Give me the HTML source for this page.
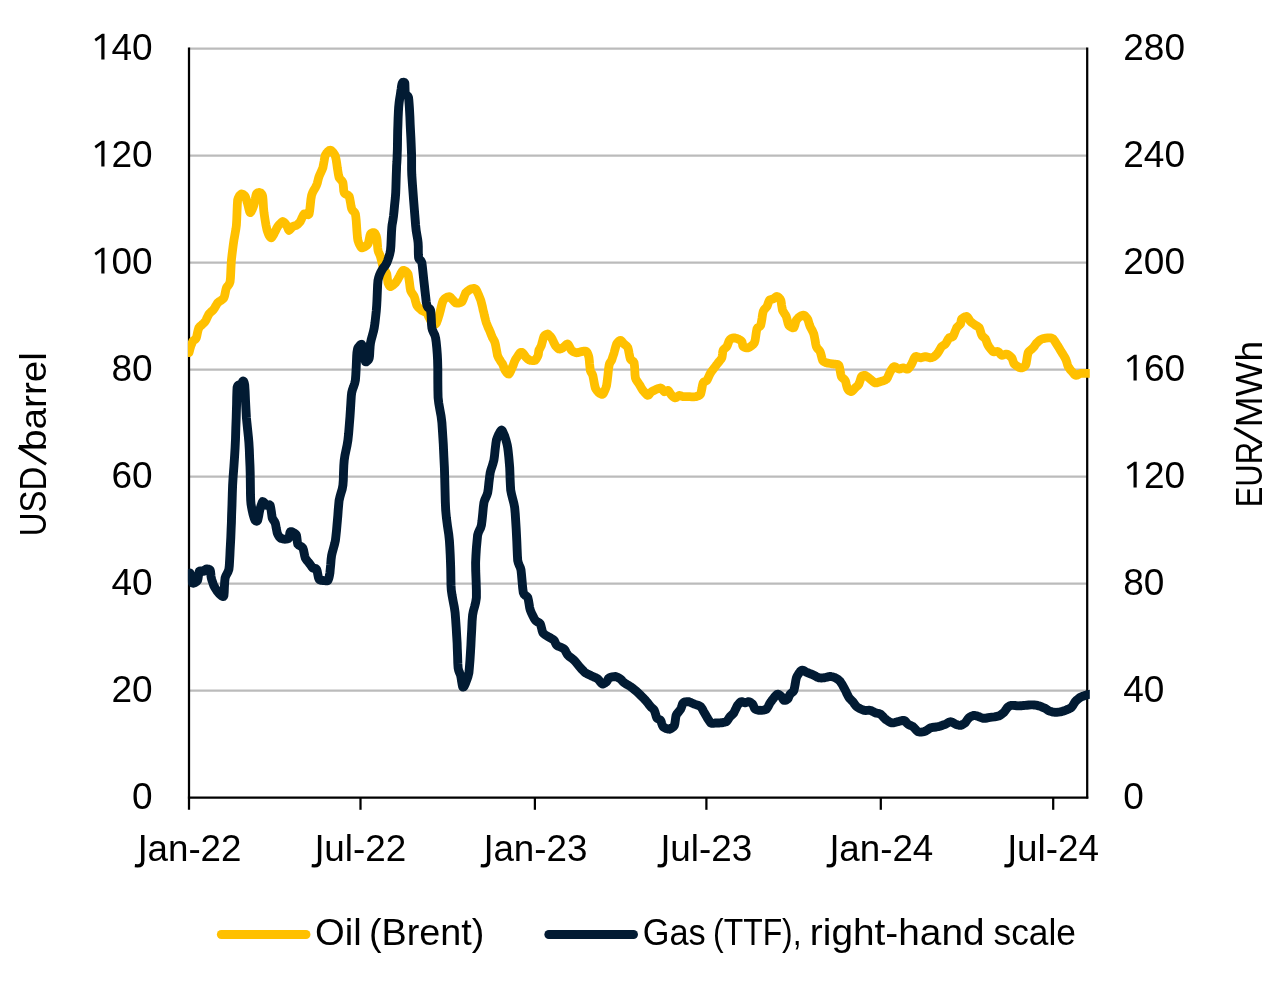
<!DOCTYPE html>
<html><head><meta charset="utf-8"><title>Oil and gas prices</title>
<style>
html,body{margin:0;padding:0;background:#fff;}
body{width:1280px;height:998px;position:relative;overflow:hidden;font-family:"Liberation Sans",sans-serif;}
</style></head><body>
<div id="chart" style="position:absolute;left:0;top:0;width:1280px;height:998px;will-change:transform;">
<svg width="1280" height="998" viewBox="0 0 1280 998" style="position:absolute;left:0;top:0;font-family:'Liberation Sans',sans-serif;">
<rect width="1280" height="998" fill="#ffffff"/>
<defs><clipPath id="plot"><rect x="187.9" y="40" width="901.9" height="765"/></clipPath></defs>
<line x1="189.0" y1="48.6" x2="1087.2" y2="48.6" stroke="#bbbbbb" stroke-width="2.25"/>
<line x1="189.0" y1="155.6" x2="1087.2" y2="155.6" stroke="#bbbbbb" stroke-width="2.25"/>
<line x1="189.0" y1="262.6" x2="1087.2" y2="262.6" stroke="#bbbbbb" stroke-width="2.25"/>
<line x1="189.0" y1="369.6" x2="1087.2" y2="369.6" stroke="#bbbbbb" stroke-width="2.25"/>
<line x1="189.0" y1="476.5" x2="1087.2" y2="476.5" stroke="#bbbbbb" stroke-width="2.25"/>
<line x1="189.0" y1="583.5" x2="1087.2" y2="583.5" stroke="#bbbbbb" stroke-width="2.25"/>
<line x1="189.0" y1="690.5" x2="1087.2" y2="690.5" stroke="#bbbbbb" stroke-width="2.25"/>
<line x1="189.0" y1="47.5" x2="189.0" y2="809.8" stroke="#000" stroke-width="2.25"/>
<line x1="1087.2" y1="47.5" x2="1087.2" y2="798.6" stroke="#000" stroke-width="2.25"/>
<line x1="187.9" y1="797.5" x2="1088.3" y2="797.5" stroke="#000" stroke-width="2.25"/>
<line x1="360.5" y1="797.5" x2="360.5" y2="809.8" stroke="#000" stroke-width="2.25"/>
<line x1="534.9" y1="797.5" x2="534.9" y2="809.8" stroke="#000" stroke-width="2.25"/>
<line x1="706.4" y1="797.5" x2="706.4" y2="809.8" stroke="#000" stroke-width="2.25"/>
<line x1="880.8" y1="797.5" x2="880.8" y2="809.8" stroke="#000" stroke-width="2.25"/>
<line x1="1053.2" y1="797.5" x2="1053.2" y2="809.8" stroke="#000" stroke-width="2.25"/>
<path d="M189.0,352.6 L189.4,351.3 L189.9,349.2 L190.5,347.1 L191.0,345.5 L191.5,344.4 L192.0,343.1 L192.5,341.9 L193.0,341.0 L193.7,340.4 L194.6,339.8 L195.6,339.0 L196.3,338.0 L196.8,336.1 L197.4,333.2 L198.1,330.1 L198.8,328.0 L200.0,326.4 L201.9,324.8 L203.7,323.1 L205.1,321.7 L206.0,320.1 L207.0,317.9 L208.0,315.8 L208.8,314.2 L209.9,313.0 L211.3,311.6 L212.8,310.3 L213.8,309.2 L214.7,307.8 L215.7,306.1 L216.7,304.3 L217.6,302.9 L218.9,301.8 L220.8,300.6 L222.6,299.3 L223.9,297.9 L224.6,295.9 L225.2,293.0 L225.8,290.0 L226.4,287.9 L227.2,286.6 L228.3,285.3 L229.4,283.7 L230.1,281.6 L230.5,277.6 L230.8,271.6 L231.1,265.2 L231.4,260.3 L231.9,255.7 L232.6,250.0 L233.3,244.5 L233.9,240.3 L234.5,236.9 L235.2,233.0 L235.9,229.0 L236.4,225.2 L236.7,219.9 L237.0,212.3 L237.3,205.0 L237.6,200.2 L238.4,197.7 L239.4,195.8 L240.5,194.6 L241.4,193.9 L242.3,194.0 L243.3,194.6 L244.4,195.5 L245.2,196.4 L245.8,197.8 L246.5,199.9 L247.1,202.1 L247.7,203.9 L248.2,206.1 L248.9,209.0 L249.6,211.5 L250.2,212.7 L251.0,211.9 L252.1,209.8 L253.1,207.3 L253.9,205.2 L254.5,202.7 L255.2,199.3 L255.8,196.0 L256.4,193.9 L257.2,193.1 L258.3,192.6 L259.4,192.5 L260.2,192.7 L260.8,193.0 L261.6,193.8 L262.2,194.9 L262.7,196.4 L263.0,199.4 L263.3,204.1 L263.6,208.9 L264.0,212.7 L264.5,216.2 L265.2,220.6 L265.9,224.8 L266.5,227.7 L267.0,229.9 L267.7,232.1 L268.4,234.0 L269.0,235.3 L269.5,236.2 L270.2,237.1 L270.9,237.7 L271.5,237.8 L272.3,236.8 L273.4,235.0 L274.4,233.0 L275.2,231.5 L275.8,230.3 L276.4,228.9 L277.1,227.6 L277.7,226.5 L278.8,225.2 L280.2,223.6 L281.7,222.2 L282.8,221.5 L283.7,221.9 L284.7,222.9 L285.8,224.2 L286.5,225.2 L287.1,226.4 L287.8,228.1 L288.4,229.5 L289.0,230.3 L289.8,229.8 L290.8,228.6 L291.9,227.3 L292.8,226.5 L293.6,226.1 L294.7,225.9 L295.7,225.6 L296.5,225.2 L297.4,224.6 L298.4,223.6 L299.5,222.5 L300.3,221.5 L301.1,219.9 L302.1,217.6 L303.2,215.3 L304.1,214.0 L305.2,213.9 L306.6,214.5 L308.1,214.8 L309.1,214.0 L309.7,210.6 L310.3,205.0 L310.9,199.2 L311.6,195.2 L312.6,192.5 L314.1,189.7 L315.6,187.2 L316.6,185.1 L317.3,183.1 L317.9,180.7 L318.5,178.3 L319.1,176.4 L319.9,174.5 L321.0,172.1 L322.1,169.7 L322.9,167.6 L323.4,164.9 L324.1,161.2 L324.7,157.5 L325.4,155.1 L326.4,153.4 L327.8,151.7 L329.2,150.5 L330.4,150.1 L331.5,150.7 L333.0,152.3 L334.4,154.3 L335.4,156.3 L336.1,159.4 L336.8,163.8 L337.4,168.3 L337.9,171.4 L338.2,173.2 L338.5,174.9 L338.8,176.4 L339.1,177.6 L339.9,178.7 L341.0,180.0 L342.2,181.3 L342.9,182.6 L343.2,184.7 L343.5,187.7 L343.7,190.7 L344.2,192.7 L345.1,193.7 L346.6,194.4 L348.1,195.3 L349.2,196.4 L349.8,198.9 L350.5,202.6 L351.1,206.4 L351.7,208.9 L352.5,210.3 L353.6,211.4 L354.7,212.5 L355.4,214.0 L355.8,216.6 L356.2,220.5 L356.5,224.6 L356.7,227.7 L356.9,230.7 L357.2,234.3 L357.5,237.8 L357.9,240.3 L358.6,242.4 L359.6,244.7 L360.7,246.8 L361.7,247.8 L363.0,247.6 L364.9,246.7 L366.7,245.4 L368.0,244.0 L368.7,242.0 L369.3,238.9 L369.9,235.9 L370.5,234.0 L371.3,233.2 L372.4,232.7 L373.4,232.6 L374.2,232.8 L374.9,233.4 L375.6,234.7 L376.3,236.2 L376.7,237.8 L377.1,240.3 L377.4,244.0 L377.7,247.7 L378.0,250.3 L378.5,251.9 L379.2,253.5 L379.9,255.1 L380.5,256.6 L381.0,258.6 L381.7,261.5 L382.4,264.4 L383.0,266.6 L383.8,268.4 L384.9,270.4 L386.0,272.4 L386.8,274.1 L387.1,276.1 L387.4,278.7 L387.7,281.2 L388.0,282.9 L388.5,284.1 L389.1,285.3 L389.8,286.3 L390.5,286.6 L391.5,286.2 L393.0,285.2 L394.4,284.0 L395.5,282.9 L396.4,281.6 L397.5,279.9 L398.5,278.0 L399.3,276.6 L400.1,275.1 L401.1,273.0 L402.2,271.2 L403.1,270.4 L404.1,270.5 L405.6,271.2 L407.1,272.5 L408.1,274.1 L408.7,277.3 L409.4,282.1 L410.0,287.1 L410.6,290.4 L411.4,292.2 L412.5,293.9 L413.5,295.3 L414.3,296.7 L414.9,298.6 L415.5,301.1 L416.2,303.6 L416.8,305.4 L417.8,306.8 L419.2,308.2 L420.7,309.5 L421.9,310.5 L423.0,311.0 L424.4,311.6 L425.8,312.2 L426.9,313.0 L427.7,314.4 L428.7,316.7 L429.8,318.9 L430.6,320.5 L431.7,321.7 L433.1,323.1 L434.6,324.1 L435.6,324.2 L436.5,322.8 L437.6,320.0 L438.6,316.8 L439.4,314.2 L440.2,311.2 L441.2,307.0 L442.2,303.1 L443.2,300.4 L444.4,298.9 L446.2,297.7 L448.0,296.8 L449.4,296.7 L450.8,297.7 L452.6,299.7 L454.3,301.7 L455.7,302.9 L457.1,303.1 L458.9,303.0 L460.7,302.5 L462.0,301.7 L462.9,300.0 L463.9,297.4 L464.9,294.7 L465.7,292.9 L466.8,291.8 L468.2,290.6 L469.6,289.7 L470.7,289.1 L471.8,288.8 L473.2,288.5 L474.6,288.5 L475.7,289.1 L476.9,291.1 L478.3,294.2 L479.7,297.7 L480.8,300.4 L481.5,303.1 L482.4,306.6 L483.1,310.1 L483.8,312.7 L484.3,315.1 L485.0,317.9 L485.7,320.6 L486.3,322.7 L487.1,324.8 L488.1,327.3 L489.2,329.7 L490.0,331.5 L490.6,333.0 L491.3,334.8 L492.0,336.5 L492.5,337.8 L493.1,338.8 L493.8,340.0 L494.5,341.3 L495.0,342.8 L495.6,345.3 L496.3,349.0 L497.0,352.8 L497.5,355.3 L498.1,356.8 L498.8,358.2 L499.5,359.4 L500.1,360.3 L500.6,361.2 L501.3,362.2 L502.0,363.1 L502.6,364.1 L503.1,365.4 L503.8,367.2 L504.4,369.0 L505.1,370.4 L505.8,371.5 L506.9,372.8 L508.0,373.9 L508.8,374.1 L509.7,373.0 L510.8,370.8 L511.8,368.4 L512.6,366.6 L513.2,365.2 L513.8,363.5 L514.4,361.8 L515.1,360.3 L516.1,358.6 L517.6,356.3 L519.1,354.1 L520.1,352.8 L520.8,352.4 L521.4,352.3 L522.0,352.4 L522.6,352.8 L523.4,353.7 L524.4,355.2 L525.5,356.7 L526.4,357.8 L527.2,358.5 L528.2,359.3 L529.2,359.9 L530.1,360.3 L531.2,360.5 L532.7,360.7 L534.1,360.6 L535.1,360.3 L535.9,359.5 L536.8,358.0 L537.6,356.5 L538.1,355.3 L538.4,354.2 L538.5,352.8 L538.7,351.4 L538.9,350.3 L539.4,349.3 L540.1,348.0 L540.8,346.6 L541.4,345.3 L541.9,343.4 L542.6,340.8 L543.3,338.2 L543.9,336.5 L544.7,335.5 L545.7,334.7 L546.8,334.2 L547.7,334.0 L548.5,334.5 L549.5,335.5 L550.6,336.6 L551.4,337.8 L552.3,339.3 L553.3,341.5 L554.4,343.7 L555.2,345.3 L556.0,346.4 L557.1,347.6 L558.1,348.5 L558.9,349.0 L559.8,349.1 L560.8,348.8 L561.8,348.3 L562.7,347.8 L563.8,346.9 L565.2,345.6 L566.6,344.4 L567.7,344.0 L568.6,345.0 L569.6,346.9 L570.6,348.9 L571.5,350.3 L572.5,351.1 L573.9,351.9 L575.4,352.5 L576.5,352.8 L577.6,352.7 L579.0,352.3 L580.4,351.8 L581.5,351.6 L582.7,351.4 L584.1,351.2 L585.5,351.2 L586.5,351.6 L587.2,352.5 L587.9,354.1 L588.6,356.0 L589.0,357.8 L589.3,360.4 L589.6,364.1 L590.0,367.8 L590.3,370.4 L590.8,371.7 L591.5,372.9 L592.2,374.0 L592.8,375.4 L593.3,377.9 L594.0,381.6 L594.7,385.4 L595.3,387.9 L596.1,389.4 L597.1,390.9 L598.2,392.1 L599.0,392.9 L599.9,393.5 L600.9,394.1 L602.0,394.4 L602.8,394.2 L603.7,392.9 L604.7,390.7 L605.8,388.1 L606.6,385.4 L607.2,381.2 L607.9,375.2 L608.5,369.2 L609.1,365.3 L609.6,363.5 L610.3,362.3 L611.0,361.3 L611.6,360.3 L612.1,358.8 L612.8,356.7 L613.5,354.6 L614.1,352.8 L614.6,350.8 L615.3,348.3 L616.0,345.8 L616.6,344.0 L617.4,342.8 L618.4,341.6 L619.5,340.7 L620.4,340.3 L621.2,340.7 L622.2,341.8 L623.3,343.1 L624.1,344.0 L625.0,344.7 L626.0,345.6 L627.1,346.6 L627.9,347.8 L628.5,350.1 L629.1,353.4 L629.8,356.8 L630.4,359.1 L631.2,360.1 L632.3,360.8 L633.4,361.6 L634.1,362.8 L634.5,365.8 L634.8,370.2 L635.0,374.8 L635.4,377.9 L636.1,379.7 L637.2,381.4 L638.3,382.9 L639.1,384.1 L640.0,385.5 L641.0,387.3 L642.0,389.1 L642.9,390.4 L644.0,391.7 L645.4,393.3 L646.8,394.8 L647.9,395.4 L648.7,395.0 L649.6,393.9 L650.6,392.6 L651.7,391.7 L653.5,390.7 L656.1,389.4 L658.7,388.4 L660.5,387.9 L661.5,388.4 L662.6,389.7 L663.5,390.9 L664.2,391.7 L665.0,391.5 L666.1,391.0 L667.1,390.5 L668.0,390.4 L668.8,391.2 L669.8,392.7 L670.9,394.3 L671.7,395.4 L672.6,396.2 L673.6,397.0 L674.7,397.7 L675.5,397.9 L676.3,397.5 L677.4,396.7 L678.4,395.9 L679.2,395.4 L680.1,395.5 L681.1,395.9 L682.1,396.4 L683.0,396.7 L684.0,396.7 L685.3,396.7 L686.8,396.7 L688.0,396.7 L689.6,396.7 L691.8,396.8 L694.0,396.8 L695.5,396.7 L696.8,396.4 L698.3,395.9 L699.6,395.2 L700.6,394.2 L701.2,391.9 L701.9,388.5 L702.5,385.1 L703.1,382.9 L703.8,382.0 L704.9,381.5 L706.0,381.0 L706.8,380.4 L707.7,378.9 L708.7,376.7 L709.7,374.5 L710.6,372.9 L711.4,371.6 L712.5,370.2 L713.5,368.9 L714.3,367.8 L715.2,366.7 L716.2,365.3 L717.3,363.9 L718.1,362.8 L719.0,361.8 L720.1,360.4 L721.1,359.1 L721.9,357.8 L722.2,356.2 L722.5,354.0 L722.7,351.8 L723.1,350.3 L723.8,349.3 L724.9,348.4 L726.1,347.4 L726.9,346.5 L727.5,345.2 L728.1,343.4 L728.8,341.5 L729.4,340.3 L730.1,339.5 L731.1,338.7 L732.2,338.1 L733.1,337.8 L734.2,337.8 L735.6,338.2 L737.1,338.6 L738.1,339.0 L739.1,339.5 L740.2,340.1 L741.2,340.8 L741.9,341.5 L742.2,342.6 L742.5,344.1 L742.7,345.6 L743.2,346.5 L744.1,347.1 L745.4,347.6 L746.9,347.9 L748.2,347.8 L749.6,347.1 L751.4,345.9 L753.2,344.4 L754.4,342.8 L755.2,340.0 L755.8,335.8 L756.4,331.7 L756.9,329.0 L757.7,327.8 L758.8,327.1 L759.9,326.4 L760.7,325.2 L761.3,322.5 L762.0,318.4 L762.6,314.2 L763.2,311.5 L764.0,309.9 L765.1,308.6 L766.2,307.5 L767.0,306.4 L767.6,305.0 L768.2,303.1 L768.9,301.3 L769.5,300.2 L770.2,299.7 L771.3,299.4 L772.4,299.2 L773.2,298.9 L774.1,298.3 L775.1,297.4 L776.2,296.7 L777.0,296.4 L777.9,296.8 L779.0,297.7 L780.0,298.9 L780.8,300.2 L781.2,302.2 L781.6,305.1 L782.1,308.1 L782.5,310.2 L783.3,311.7 L784.4,313.4 L785.5,315.0 L786.3,316.5 L786.8,318.4 L787.5,321.0 L788.1,323.6 L788.8,325.2 L789.8,326.3 L791.3,327.2 L792.8,327.8 L793.8,327.7 L794.4,326.5 L795.1,324.3 L795.7,321.9 L796.3,320.2 L797.1,319.2 L798.1,318.1 L799.2,317.1 L800.1,316.5 L800.9,316.0 L801.9,315.5 L803.0,315.2 L803.8,315.2 L804.7,315.7 L805.7,316.7 L806.8,317.9 L807.6,319.0 L808.2,320.5 L808.8,322.6 L809.5,324.8 L810.1,326.5 L810.9,328.1 L812.0,330.0 L813.0,332.1 L813.8,334.0 L814.4,336.7 L815.1,340.4 L815.7,344.0 L816.3,346.5 L817.1,348.0 L818.2,349.2 L819.3,350.4 L820.1,351.6 L820.7,353.4 L821.4,356.0 L822.0,358.6 L822.6,360.3 L823.3,361.2 L824.3,361.9 L825.3,362.4 L826.4,362.8 L827.9,363.2 L830.1,363.5 L832.3,363.8 L833.9,364.1 L835.2,364.2 L836.6,364.3 L837.9,364.6 L838.9,365.3 L839.6,367.5 L840.2,370.9 L840.8,374.3 L841.4,376.6 L842.2,377.7 L843.3,378.6 L844.4,379.4 L845.2,380.4 L845.8,382.2 L846.4,384.8 L847.1,387.4 L847.7,389.1 L848.4,390.1 L849.5,390.9 L850.6,391.5 L851.4,391.7 L852.3,391.1 L853.3,390.0 L854.4,388.8 L855.2,387.9 L856.0,387.1 L857.1,386.2 L858.2,385.2 L858.9,384.1 L859.5,382.5 L860.2,380.3 L860.9,378.0 L861.5,376.6 L862.2,375.9 L863.2,375.5 L864.3,375.3 L865.2,375.4 L866.3,376.0 L867.7,377.0 L869.1,378.2 L870.2,379.1 L871.3,380.0 L872.7,381.2 L874.1,382.3 L875.2,382.9 L876.3,382.9 L877.7,382.5 L879.1,382.1 L880.3,381.6 L881.6,381.2 L883.4,380.7 L885.2,379.9 L886.5,379.1 L887.5,377.7 L888.5,375.5 L889.5,373.2 L890.3,371.6 L891.1,370.2 L892.1,368.7 L893.1,367.3 L894.0,366.6 L895.1,366.8 L896.5,367.7 L898.0,368.6 L899.0,369.1 L899.9,369.0 L900.9,368.5 L901.9,368.1 L902.8,367.8 L903.9,368.1 L905.3,368.6 L906.7,369.1 L907.8,369.1 L908.7,368.3 L909.8,367.0 L910.8,365.4 L911.6,364.1 L912.4,362.4 L913.4,360.1 L914.4,357.8 L915.3,356.6 L916.4,356.5 L917.8,356.9 L919.2,357.5 L920.4,357.8 L921.5,357.6 L922.9,357.2 L924.3,356.8 L925.4,356.6 L926.5,356.8 L927.9,357.2 L929.3,357.6 L930.4,357.8 L931.3,357.7 L932.3,357.4 L933.3,357.0 L934.1,356.6 L935.0,355.9 L936.0,354.9 L937.1,353.8 L937.9,352.8 L938.7,351.5 L939.8,349.6 L940.8,347.8 L941.7,346.5 L942.5,345.9 L943.5,345.3 L944.6,344.7 L945.4,344.0 L946.2,342.7 L947.3,340.8 L948.3,339.0 L949.2,337.8 L950.0,337.4 L951.1,337.3 L952.1,337.1 L952.9,336.5 L953.8,334.9 L954.8,332.2 L955.9,329.6 L956.7,327.7 L957.6,326.7 L958.7,325.7 L959.7,324.8 L960.5,324.0 L960.8,322.9 L961.0,321.4 L961.3,320.0 L961.7,319.0 L962.7,318.2 L964.1,317.3 L965.6,316.6 L966.7,316.5 L967.6,317.2 L968.6,318.7 L969.6,320.3 L970.5,321.5 L971.5,322.4 L973.0,323.5 L974.4,324.5 L975.5,325.2 L976.4,325.8 L977.5,326.3 L978.5,327.0 L979.2,327.7 L979.8,329.2 L980.5,331.4 L981.2,333.7 L981.8,335.3 L982.5,336.2 L983.6,337.2 L984.7,338.1 L985.5,339.0 L986.1,340.3 L986.7,342.0 L987.4,343.9 L988.0,345.3 L989.0,346.8 L990.4,348.7 L991.9,350.5 L993.0,351.6 L994.2,351.8 L995.6,351.7 L997.0,351.5 L998.0,351.6 L998.9,352.3 L999.9,353.5 L1000.9,354.7 L1001.8,355.3 L1002.9,355.2 L1004.3,354.7 L1005.7,354.2 L1006.8,354.1 L1008.0,354.6 L1009.4,355.6 L1010.8,356.8 L1011.8,357.8 L1012.4,359.1 L1013.0,361.0 L1013.6,362.8 L1014.3,364.1 L1015.6,365.1 L1017.4,366.3 L1019.2,367.4 L1020.6,367.8 L1021.8,367.8 L1023.3,367.3 L1024.6,366.5 L1025.6,365.3 L1026.3,362.9 L1026.9,359.2 L1027.5,355.4 L1028.1,352.8 L1029.1,351.3 L1030.6,350.0 L1032.0,348.8 L1033.1,347.8 L1034.0,346.7 L1035.0,345.2 L1036.0,343.8 L1036.9,342.8 L1037.9,341.8 L1039.2,340.7 L1040.6,339.7 L1041.9,339.0 L1043.5,338.6 L1045.7,338.2 L1047.9,337.9 L1049.4,337.8 L1050.4,337.8 L1051.4,338.0 L1052.3,338.4 L1053.2,339.0 L1054.3,340.4 L1055.7,342.6 L1057.1,344.8 L1058.2,346.5 L1059.1,348.0 L1060.1,349.7 L1061.1,351.4 L1062.0,352.8 L1062.8,354.2 L1063.9,355.9 L1064.9,357.6 L1065.7,359.1 L1066.3,360.7 L1067.0,362.9 L1067.6,365.0 L1068.2,366.6 L1069.0,367.8 L1070.0,369.3 L1071.1,370.6 L1072.0,371.6 L1072.8,372.6 L1073.8,373.8 L1074.8,374.8 L1075.7,375.4 L1076.8,375.2 L1078.2,374.5 L1079.6,373.8 L1080.8,373.4 L1081.9,373.3 L1083.4,373.3 L1085.0,373.3 L1086.3,373.4 L1087.9,373.4 L1090.0,373.4 L1092.0,373.4 L1093.3,373.4" fill="none" stroke="#FFC000" stroke-width="8.8" stroke-linejoin="round" stroke-linecap="round" clip-path="url(#plot)"/>
<path d="M190.0,573.0 L190.4,575.0 L191.1,578.2 L191.8,581.3 L192.5,583.1 L193.6,583.2 L195.1,582.6 L196.6,581.6 L197.5,580.6 L198.0,578.7 L198.4,575.8 L198.8,573.0 L199.3,571.3 L200.2,570.9 L201.5,571.0 L202.9,571.2 L203.8,571.3 L204.4,570.8 L205.1,570.1 L205.7,569.4 L206.3,569.0 L207.1,569.0 L208.3,569.1 L209.3,569.4 L210.1,570.0 L210.5,571.5 L210.8,573.8 L211.0,576.2 L211.3,578.0 L211.8,579.8 L212.5,581.9 L213.2,584.0 L213.8,585.6 L214.6,587.1 L215.7,588.9 L216.7,590.6 L217.6,591.8 L218.4,592.8 L219.5,594.0 L220.6,595.0 L221.4,595.6 L222.0,596.1 L222.7,596.5 L223.4,596.5 L223.9,595.6 L224.2,592.4 L224.4,587.2 L224.7,581.8 L225.1,578.0 L225.9,575.8 L227.0,573.7 L228.1,571.6 L228.9,569.3 L229.3,565.7 L229.6,560.7 L229.9,555.2 L230.1,550.5 L230.4,545.0 L230.8,537.5 L231.1,529.7 L231.4,522.9 L231.6,515.1 L232.0,504.5 L232.3,493.8 L232.6,485.3 L233.1,477.0 L233.9,466.5 L234.6,456.1 L235.1,447.7 L235.5,439.1 L235.8,428.3 L236.2,417.7 L236.4,410.1 L236.6,404.1 L236.7,397.3 L236.9,391.3 L237.1,387.6 L237.6,385.9 L238.4,385.1 L239.2,384.9 L239.6,385.1 L239.8,386.0 L239.9,387.8 L240.0,389.5 L240.2,390.1 L240.6,388.6 L241.3,385.7 L242.1,382.9 L242.7,381.3 L243.1,381.0 L243.7,381.4 L244.2,382.6 L244.7,385.1 L245.1,391.0 L245.5,400.4 L246.0,410.3 L246.4,417.6 L247.0,423.5 L247.7,430.3 L248.4,437.0 L248.9,442.7 L249.3,449.2 L249.6,457.6 L250.0,466.2 L250.2,472.8 L250.3,479.3 L250.4,487.3 L250.5,495.0 L250.7,500.4 L251.0,504.0 L251.6,507.5 L252.2,510.6 L252.7,512.9 L253.2,514.9 L253.9,517.2 L254.6,519.2 L255.2,520.4 L255.8,520.9 L256.5,521.2 L257.2,521.0 L257.7,520.4 L258.1,518.6 L258.7,515.8 L259.2,512.7 L259.7,510.4 L260.3,508.2 L261.1,505.4 L262.0,502.9 L262.7,501.6 L263.5,501.9 L264.6,503.1 L265.6,504.5 L266.5,505.4 L267.3,505.3 L268.4,505.0 L269.5,504.8 L270.2,505.4 L270.7,507.7 L271.3,511.4 L271.8,515.3 L272.2,517.9 L272.9,519.3 L273.7,520.5 L274.6,521.7 L275.2,522.9 L275.7,525.0 L276.2,527.9 L276.8,530.9 L277.2,532.9 L277.8,534.4 L278.6,535.8 L279.5,537.1 L280.3,537.9 L281.3,538.4 L282.7,538.8 L284.2,539.1 L285.3,539.2 L286.2,539.1 L287.3,538.9 L288.3,538.5 L289.0,537.9 L289.4,536.7 L289.6,534.7 L289.9,532.8 L290.3,531.7 L291.0,531.6 L292.1,531.9 L293.2,532.5 L294.0,532.9 L294.7,533.3 L295.4,533.9 L296.1,534.6 L296.5,535.4 L296.8,537.2 L297.1,539.8 L297.4,542.4 L297.8,544.2 L298.8,545.2 L300.2,546.0 L301.8,546.9 L302.8,548.0 L303.5,550.0 L304.1,552.9 L304.7,555.9 L305.3,558.0 L306.1,559.4 L307.1,560.7 L308.2,562.0 L309.1,563.0 L309.9,564.2 L311.0,565.7 L312.0,567.1 L312.8,568.0 L313.7,568.3 L314.8,568.4 L315.8,568.6 L316.6,569.3 L317.2,571.2 L317.8,574.3 L318.4,577.4 L319.1,579.3 L320.1,580.0 L321.5,580.4 L323.0,580.5 L324.1,580.6 L325.0,580.7 L326.1,580.9 L327.1,580.9 L327.9,580.6 L328.4,579.4 L329.0,577.6 L329.5,575.3 L329.9,573.0 L330.2,569.6 L330.7,564.6 L331.1,559.4 L331.6,555.5 L332.4,552.1 L333.5,548.1 L334.6,544.0 L335.4,540.5 L335.9,536.2 L336.5,530.6 L337.0,524.9 L337.4,520.4 L337.8,515.9 L338.2,510.2 L338.7,504.6 L339.1,500.4 L339.9,496.9 L341.0,493.1 L342.2,489.1 L342.9,485.3 L343.3,480.2 L343.5,473.0 L343.8,465.7 L344.2,460.3 L344.9,455.7 L346.0,450.4 L347.1,445.1 L347.9,440.2 L348.6,433.8 L349.3,425.1 L350.0,416.3 L350.4,410.1 L350.7,405.5 L351.0,400.6 L351.3,396.0 L351.7,392.6 L352.4,389.8 L353.6,386.6 L354.7,383.3 L355.4,380.1 L355.8,374.9 L356.2,367.6 L356.5,360.4 L356.7,355.6 L356.9,353.0 L357.2,350.9 L357.5,349.2 L357.9,348.0 L358.7,346.8 L359.8,345.5 L360.9,344.4 L361.7,344.3 L362.3,345.6 L363.1,348.1 L363.7,350.9 L364.2,353.1 L364.5,355.2 L364.8,358.0 L365.1,360.5 L365.5,361.8 L366.2,361.8 L367.3,361.0 L368.5,359.7 L369.2,358.1 L369.6,355.3 L369.8,351.0 L370.1,346.6 L370.5,343.0 L371.2,339.8 L372.3,335.8 L373.4,331.7 L374.2,328.0 L374.9,323.4 L375.6,317.2 L376.3,310.7 L376.7,305.4 L377.0,299.8 L377.3,292.4 L377.6,285.2 L378.0,280.4 L378.7,277.4 L379.7,274.6 L380.8,272.2 L381.8,270.4 L382.8,268.6 L384.3,266.7 L385.7,264.7 L386.8,262.8 L387.7,260.5 L388.8,257.2 L389.8,253.7 L390.5,250.3 L390.9,245.6 L391.2,239.0 L391.5,232.4 L391.8,227.7 L392.1,224.8 L392.6,221.9 L393.1,219.0 L393.5,216.1 L394.0,211.5 L394.6,205.0 L395.3,198.3 L395.7,192.9 L395.9,187.6 L396.1,180.9 L396.3,174.3 L396.5,169.5 L396.6,165.7 L396.9,161.6 L397.1,157.5 L397.2,153.8 L397.4,149.0 L397.5,142.4 L397.6,135.7 L397.7,130.4 L397.9,125.0 L398.1,118.3 L398.4,111.7 L398.7,106.9 L399.1,102.9 L399.7,98.4 L400.4,94.3 L400.8,91.3 L401.2,88.9 L401.5,86.4 L401.9,84.3 L402.3,83.0 L402.8,82.4 L403.5,82.2 L404.3,82.3 L404.8,83.0 L404.9,84.9 L405.0,88.1 L405.1,91.4 L405.4,93.6 L406.0,94.7 L406.9,95.4 L407.9,96.3 L408.5,97.5 L408.8,99.9 L409.1,103.6 L409.4,107.7 L409.6,111.6 L409.9,117.0 L410.2,124.7 L410.6,132.5 L410.9,138.2 L411.1,142.7 L411.3,147.9 L411.5,152.9 L411.6,157.0 L411.6,160.5 L411.6,164.7 L411.6,169.5 L411.8,175.1 L412.5,185.2 L413.6,200.2 L414.8,215.2 L415.6,225.2 L416.2,230.8 L417.0,235.5 L417.7,239.5 L418.1,242.8 L418.3,246.4 L418.3,250.8 L418.4,255.0 L418.6,257.8 L419.2,259.1 L420.1,260.0 L421.1,261.0 L421.9,262.8 L422.4,267.0 L423.1,273.5 L423.8,280.2 L424.4,285.4 L424.9,290.2 L425.6,296.2 L426.2,301.8 L426.9,305.4 L427.7,307.1 L428.8,308.1 L429.9,309.0 L430.6,310.5 L431.0,313.9 L431.3,319.0 L431.5,324.3 L431.9,328.0 L432.6,330.4 L433.7,332.8 L434.9,335.3 L435.6,338.0 L436.2,342.2 L436.8,348.1 L437.3,354.7 L437.6,360.6 L437.8,368.3 L437.8,379.0 L437.9,389.7 L438.1,397.6 L438.8,403.4 L439.9,409.8 L441.1,416.3 L441.9,422.7 L442.5,431.7 L443.3,444.4 L443.9,457.6 L444.4,467.8 L444.7,477.6 L445.0,489.7 L445.3,501.6 L445.7,510.4 L446.4,517.7 L447.5,526.1 L448.7,534.1 L449.4,540.5 L449.8,546.8 L450.2,554.6 L450.5,562.2 L450.7,568.0 L450.8,573.2 L450.9,579.3 L451.0,585.2 L451.3,590.1 L452.0,594.9 L453.1,601.0 L454.3,607.2 L455.1,612.6 L455.6,619.0 L456.2,627.6 L456.7,636.2 L457.1,642.7 L457.3,648.8 L457.6,656.2 L457.8,663.2 L458.1,667.8 L458.6,670.2 L459.3,672.1 L460.0,673.7 L460.6,675.3 L461.1,677.8 L461.6,681.3 L462.2,684.6 L462.6,686.6 L463.0,687.1 L463.5,687.0 L464.1,686.4 L464.6,685.3 L465.5,683.3 L466.7,680.2 L468.0,676.5 L468.9,672.8 L469.4,667.4 L470.0,659.8 L470.5,651.7 L470.9,645.2 L471.2,638.5 L471.7,629.7 L472.1,621.2 L472.6,615.1 L473.4,610.9 L474.6,606.6 L475.7,602.1 L476.4,597.6 L476.4,590.6 L476.1,580.7 L475.7,570.5 L475.6,562.9 L475.9,556.2 L476.4,548.0 L477.1,540.5 L477.6,535.3 L478.4,532.5 L479.5,530.1 L480.6,527.9 L481.4,525.3 L482.0,520.7 L482.7,514.0 L483.3,507.4 L483.9,502.8 L484.7,500.1 L485.8,497.6 L486.9,495.2 L487.7,492.7 L488.3,488.7 L488.9,482.8 L489.6,476.9 L490.2,472.7 L491.0,469.7 L492.1,466.4 L493.1,463.2 L493.9,460.2 L494.5,455.9 L495.1,450.0 L495.8,444.2 L496.4,440.1 L497.5,437.1 L498.9,433.9 L500.4,431.3 L501.5,430.1 L502.4,430.8 L503.4,433.0 L504.5,435.5 L505.2,437.6 L505.8,439.5 L506.5,442.1 L507.2,444.9 L507.7,447.6 L508.2,451.5 L508.8,457.1 L509.3,462.9 L509.7,467.7 L509.9,472.6 L510.1,479.1 L510.4,485.4 L510.7,490.2 L511.5,494.2 L512.7,498.8 L513.9,503.5 L514.7,507.8 L515.2,513.4 L515.7,521.2 L516.2,529.2 L516.5,535.3 L516.8,541.3 L517.1,548.7 L517.4,555.6 L517.7,560.4 L518.4,563.1 L519.3,565.3 L520.3,567.5 L521.0,570.0 L521.5,574.7 L522.1,581.5 L522.7,588.2 L523.3,592.6 L524.2,594.4 L525.5,595.5 L526.8,596.4 L527.8,597.6 L528.4,600.0 L529.0,603.6 L529.6,607.3 L530.3,610.1 L531.3,612.6 L532.7,615.5 L534.1,618.3 L535.3,620.2 L536.4,621.2 L537.9,622.1 L539.3,622.9 L540.3,623.9 L540.9,625.7 L541.6,628.3 L542.2,630.9 L542.8,632.7 L543.8,633.8 L545.1,634.8 L546.6,635.7 L547.8,636.4 L549.2,637.3 L551.1,638.3 L552.9,639.3 L554.1,640.2 L554.7,641.3 L555.3,642.7 L555.9,644.1 L556.6,645.2 L558.1,646.1 L560.3,647.0 L562.5,648.0 L564.1,649.0 L565.1,650.3 L566.0,652.1 L567.0,653.9 L567.9,655.2 L569.1,656.4 L570.9,657.7 L572.7,659.0 L574.1,660.3 L575.5,661.8 L577.3,664.0 L579.1,666.2 L580.4,667.8 L581.5,669.0 L582.9,670.4 L584.2,671.8 L585.4,672.8 L587.0,673.7 L589.2,674.8 L591.3,675.8 L592.9,676.5 L594.2,677.1 L595.6,677.7 L596.9,678.4 L597.9,679.0 L599.0,680.2 L600.2,681.8 L601.5,683.3 L602.5,684.1 L603.4,683.9 L604.7,683.2 L605.9,682.3 L606.7,681.6 L607.3,680.7 L607.9,679.6 L608.5,678.5 L609.2,677.8 L610.4,677.3 L612.2,676.9 L614.1,676.6 L615.5,676.5 L616.7,676.9 L618.1,677.6 L619.5,678.4 L620.5,679.0 L621.4,679.8 L622.3,680.9 L623.3,682.0 L624.3,682.8 L625.5,683.6 L627.2,684.6 L629.0,685.6 L630.5,686.6 L632.1,687.8 L634.2,689.5 L636.4,691.3 L638.0,692.8 L639.8,694.5 L641.9,696.6 L644.0,698.7 L645.6,700.4 L646.8,701.8 L648.2,703.6 L649.6,705.4 L650.6,706.6 L651.5,707.5 L652.6,708.4 L653.6,709.4 L654.3,710.4 L654.9,711.9 L655.6,714.2 L656.2,716.4 L656.8,717.9 L657.6,718.6 L658.7,719.2 L659.8,719.7 L660.6,720.4 L661.2,721.7 L661.7,723.5 L662.4,725.4 L663.1,726.7 L664.3,727.5 L666.1,728.4 L668.0,729.0 L669.4,729.2 L670.6,728.8 L672.1,727.8 L673.5,726.7 L674.4,725.4 L674.9,723.4 L675.3,720.5 L675.7,717.5 L676.1,715.4 L677.0,713.8 L678.4,712.1 L679.7,710.5 L680.7,709.1 L681.3,707.7 L681.9,705.8 L682.5,704.0 L683.2,702.9 L684.1,702.3 L685.5,701.8 L687.0,701.6 L688.2,701.6 L689.5,702.0 L691.2,702.7 L693.0,703.5 L694.4,704.1 L695.9,704.6 L697.7,705.2 L699.4,705.9 L700.7,706.6 L701.6,707.8 L702.6,709.4 L703.5,711.2 L704.5,712.9 L705.7,715.1 L707.5,718.2 L709.4,721.1 L710.7,722.9 L711.9,723.4 L713.3,723.3 L714.7,723.1 L715.7,722.9 L716.7,722.9 L717.8,723.0 L719.0,723.0 L720.0,722.9 L721.3,722.8 L723.2,722.5 L725.0,722.1 L726.3,721.7 L727.2,720.7 L728.3,719.3 L729.2,717.8 L730.0,716.6 L730.9,715.8 L731.9,714.9 L733.0,713.9 L733.8,712.9 L734.6,711.3 L735.7,709.1 L736.7,706.9 L737.5,705.4 L738.4,704.3 L739.4,703.1 L740.5,702.1 L741.3,701.6 L742.1,701.7 L743.2,702.1 L744.2,702.6 L745.1,702.9 L745.9,702.6 L746.9,702.2 L748.0,701.7 L748.8,701.6 L749.7,701.9 L750.8,702.6 L751.8,703.4 L752.6,704.1 L753.2,705.2 L753.8,706.7 L754.4,708.2 L755.1,709.1 L756.1,709.6 L757.4,710.0 L758.9,710.3 L760.1,710.4 L761.5,710.3 L763.3,710.1 L765.1,709.7 L766.4,709.1 L767.3,708.0 L768.4,706.2 L769.3,704.3 L770.1,702.9 L771.0,701.7 L772.0,700.2 L773.1,698.9 L773.9,697.8 L774.7,696.8 L775.8,695.6 L776.8,694.6 L777.6,694.1 L778.5,694.3 L779.6,695.0 L780.6,695.9 L781.4,696.6 L782.0,697.4 L782.7,698.6 L783.3,699.7 L783.9,700.4 L784.7,700.4 L785.8,700.1 L786.9,699.6 L787.7,699.1 L788.3,698.2 L788.9,696.7 L789.6,695.2 L790.2,694.1 L791.0,693.3 L792.1,692.5 L793.1,691.6 L793.9,690.3 L794.5,687.9 L795.2,684.2 L795.8,680.4 L796.4,677.8 L797.2,676.0 L798.3,674.2 L799.4,672.6 L800.2,671.5 L800.8,670.9 L801.4,670.5 L802.0,670.3 L802.7,670.3 L803.7,670.6 L805.0,671.4 L806.5,672.2 L807.7,672.8 L809.1,673.3 L810.9,674.0 L812.6,674.7 L814.0,675.3 L815.2,675.9 L816.5,676.7 L817.9,677.4 L819.0,677.8 L820.1,677.9 L821.4,678.0 L822.8,677.9 L824.0,677.8 L825.4,677.5 L827.1,677.1 L828.9,676.7 L830.3,676.5 L831.4,676.7 L832.8,676.9 L834.2,677.4 L835.3,677.8 L836.4,678.4 L837.8,679.3 L839.2,680.4 L840.3,681.6 L841.4,683.3 L842.9,685.8 L844.3,688.4 L845.3,690.3 L846.2,692.1 L847.2,694.3 L848.3,696.4 L849.1,697.8 L849.9,698.8 L851.0,699.8 L852.0,700.8 L852.8,701.6 L853.6,702.7 L854.5,704.1 L855.6,705.5 L856.6,706.6 L858.1,707.6 L860.2,708.7 L862.4,709.7 L864.1,710.4 L865.6,710.5 L867.4,710.4 L869.1,710.3 L870.4,710.4 L871.5,710.8 L872.9,711.6 L874.3,712.3 L875.4,712.9 L876.5,713.2 L877.9,713.4 L879.3,713.7 L880.4,714.1 L881.5,715.1 L882.9,716.5 L884.2,718.0 L885.4,719.1 L886.7,720.1 L888.5,721.3 L890.3,722.3 L891.7,722.9 L893.1,722.9 L894.8,722.5 L896.6,722.0 L897.9,721.7 L899.4,721.3 L901.2,720.8 L902.9,720.4 L904.2,720.4 L905.1,721.0 L906.1,722.1 L907.1,723.3 L908.0,724.2 L909.0,724.7 L910.4,725.4 L911.8,726.0 L913.0,726.7 L914.1,727.7 L915.4,729.3 L916.8,730.8 L918.0,731.7 L919.3,732.0 L921.1,732.1 L922.8,731.9 L924.3,731.7 L925.6,731.0 L927.3,729.9 L929.1,728.7 L930.5,727.9 L932.1,727.5 L934.2,727.2 L936.4,727.0 L938.0,726.7 L939.8,726.2 L941.9,725.5 L944.0,724.7 L945.6,724.2 L946.8,723.5 L948.2,722.7 L949.5,722.0 L950.6,721.7 L951.7,722.0 L953.1,722.7 L954.5,723.6 L955.6,724.2 L956.7,724.6 L958.1,725.0 L959.5,725.3 L960.6,725.4 L961.6,725.1 L962.9,724.4 L964.1,723.6 L965.0,722.9 L965.9,721.9 L966.9,720.4 L967.9,718.9 L968.8,717.9 L969.8,717.2 L971.2,716.4 L972.7,715.7 L973.8,715.4 L974.9,715.5 L976.3,715.8 L977.7,716.3 L978.8,716.6 L979.9,717.1 L981.2,717.6 L982.6,718.1 L983.8,718.4 L985.1,718.3 L986.8,718.0 L988.5,717.7 L990.1,717.4 L992.0,717.1 L994.5,716.8 L997.0,716.3 L998.8,715.9 L1000.2,715.2 L1001.6,714.3 L1002.9,713.3 L1003.9,712.4 L1004.8,711.3 L1005.8,709.8 L1006.8,708.4 L1007.6,707.4 L1008.4,706.7 L1009.3,706.1 L1010.4,705.6 L1011.4,705.4 L1012.9,705.4 L1015.0,705.5 L1017.2,705.8 L1018.9,705.9 L1020.3,705.8 L1022.0,705.7 L1023.7,705.5 L1025.2,705.4 L1026.8,705.2 L1028.9,705.0 L1031.1,704.9 L1032.7,704.9 L1034.1,705.0 L1035.9,705.2 L1037.6,705.5 L1038.9,705.9 L1040.4,706.3 L1042.2,707.1 L1043.9,707.8 L1045.2,708.4 L1046.1,708.9 L1047.1,709.7 L1048.1,710.4 L1049.0,710.9 L1050.2,711.3 L1052.0,711.8 L1053.8,712.2 L1055.2,712.4 L1056.6,712.3 L1058.4,712.1 L1060.2,711.9 L1061.5,711.6 L1062.7,711.3 L1064.1,710.8 L1065.4,710.3 L1066.5,709.9 L1067.6,709.4 L1069.1,708.8 L1070.5,708.1 L1071.5,707.4 L1072.4,706.2 L1073.4,704.6 L1074.4,702.9 L1075.3,701.6 L1076.3,700.5 L1077.7,699.3 L1079.2,698.2 L1080.3,697.3 L1081.4,696.8 L1082.9,696.2 L1084.3,695.7 L1085.3,695.3 L1086.1,695.1 L1086.8,694.9 L1087.6,694.7 L1088.3,694.6 L1089.3,694.4 L1090.7,694.2 L1092.0,694.0 L1092.8,693.8" fill="none" stroke="#021B33" stroke-width="8.9" stroke-linejoin="round" stroke-linecap="round" clip-path="url(#plot)"/>
<polygon points="94.50,39.10 102.00,33.70 104.50,33.70 104.50,59.50 101.30,59.50 101.30,37.40 96.00,41.50" fill="#000"/>
<text x="152.6" y="59.7" font-size="37" text-anchor="end" fill="#000">40</text>
<text x="1123.30" y="59.7" font-size="37" text-anchor="start" fill="#000">280</text>
<polygon points="94.50,146.09 102.00,140.69 104.50,140.69 104.50,166.49 101.30,166.49 101.30,144.39 96.00,148.49" fill="#000"/>
<text x="152.6" y="166.7" font-size="37" text-anchor="end" fill="#000">20</text>
<text x="1123.30" y="166.7" font-size="37" text-anchor="start" fill="#000">240</text>
<polygon points="94.50,253.07 102.00,247.67 104.50,247.67 104.50,273.47 101.30,273.47 101.30,251.37 96.00,255.47" fill="#000"/>
<text x="152.6" y="273.7" font-size="37" text-anchor="end" fill="#000">00</text>
<text x="1123.30" y="273.7" font-size="37" text-anchor="start" fill="#000">200</text>
<text x="152.6" y="380.7" font-size="37" text-anchor="end" fill="#000">80</text>
<polygon points="1126.70,360.06 1134.20,354.66 1136.70,354.66 1136.70,380.46 1133.50,380.46 1133.50,358.36 1128.20,362.46" fill="#000"/>
<text x="1143.88" y="380.7" font-size="37" text-anchor="start" fill="#000">60</text>
<text x="152.6" y="487.6" font-size="37" text-anchor="end" fill="#000">60</text>
<polygon points="1126.70,467.04 1134.20,461.64 1136.70,461.64 1136.70,487.44 1133.50,487.44 1133.50,465.34 1128.20,469.44" fill="#000"/>
<text x="1143.88" y="487.6" font-size="37" text-anchor="start" fill="#000">20</text>
<text x="152.6" y="594.6" font-size="37" text-anchor="end" fill="#000">40</text>
<text x="1123.30" y="594.6" font-size="37" text-anchor="start" fill="#000">80</text>
<text x="152.6" y="701.6" font-size="37" text-anchor="end" fill="#000">20</text>
<text x="1123.30" y="701.6" font-size="37" text-anchor="start" fill="#000">40</text>
<text x="152.6" y="808.6" font-size="37" text-anchor="end" fill="#000">0</text>
<text x="1123.30" y="808.6" font-size="37" text-anchor="start" fill="#000">0</text>
<path d="M142.75,835 L142.75,860.4 Q142.75,865.9 137.55,865.9 L134.85,865.6" fill="none" stroke="#000" stroke-width="3.4" stroke-linejoin="round"/>
<text x="147.5" y="860.6" font-size="37" textLength="94.0" lengthAdjust="spacingAndGlyphs" fill="#000">an-22</text>
<path d="M319.60,835 L319.60,860.4 Q319.60,865.9 314.40,865.9 L311.70,865.6" fill="none" stroke="#000" stroke-width="3.4" stroke-linejoin="round"/>
<text x="324.3" y="860.6" font-size="37" textLength="82.0" lengthAdjust="spacingAndGlyphs" fill="#000">ul-22</text>
<path d="M488.65,835 L488.65,860.4 Q488.65,865.9 483.45,865.9 L480.75,865.6" fill="none" stroke="#000" stroke-width="3.4" stroke-linejoin="round"/>
<text x="493.4" y="860.6" font-size="37" textLength="94.0" lengthAdjust="spacingAndGlyphs" fill="#000">an-23</text>
<path d="M665.50,835 L665.50,860.4 Q665.50,865.9 660.30,865.9 L657.60,865.6" fill="none" stroke="#000" stroke-width="3.4" stroke-linejoin="round"/>
<text x="670.2" y="860.6" font-size="37" textLength="82.0" lengthAdjust="spacingAndGlyphs" fill="#000">ul-23</text>
<path d="M834.55,835 L834.55,860.4 Q834.55,865.9 829.35,865.9 L826.65,865.6" fill="none" stroke="#000" stroke-width="3.4" stroke-linejoin="round"/>
<text x="839.3" y="860.6" font-size="37" textLength="94.0" lengthAdjust="spacingAndGlyphs" fill="#000">an-24</text>
<path d="M1012.30,835 L1012.30,860.4 Q1012.30,865.9 1007.10,865.9 L1004.40,865.6" fill="none" stroke="#000" stroke-width="3.4" stroke-linejoin="round"/>
<text x="1017.0" y="860.6" font-size="37" textLength="82.0" lengthAdjust="spacingAndGlyphs" fill="#000">ul-24</text>
<text transform="translate(46.1,536.18) rotate(-90)" font-size="37" textLength="69.39" lengthAdjust="spacingAndGlyphs" fill="#000">USD</text>
<text transform="translate(46.1,450.91) rotate(-90)" font-size="37" textLength="98.82" lengthAdjust="spacingAndGlyphs" fill="#000">barrel</text>
<line x1="46.1" y1="464.3" x2="18.6" y2="447.2" stroke="#000" stroke-width="3.1"/>
<text transform="translate(1261.6,507.31) rotate(-90)" font-size="37" textLength="65.46" lengthAdjust="spacingAndGlyphs" fill="#000">EUR</text>
<text transform="translate(1261.6,427.20) rotate(-90)" font-size="37" textLength="86.32" lengthAdjust="spacingAndGlyphs" fill="#000">MWh</text>
<line x1="1261.6" y1="443.3" x2="1234.2" y2="428.0" stroke="#000" stroke-width="3.1"/>
<line x1="221.3" y1="934.5" x2="306" y2="934.5" stroke="#FFC000" stroke-width="8.9" stroke-linecap="round"/>
<text x="315.14" y="945" font-size="37" textLength="46.71" lengthAdjust="spacingAndGlyphs" fill="#000">Oil</text>
<text x="368.90" y="945" font-size="37" textLength="115.42" lengthAdjust="spacingAndGlyphs" fill="#000">(Brent)</text>
<line x1="548.8" y1="934.5" x2="633.5" y2="934.5" stroke="#021B33" stroke-width="8.9" stroke-linecap="round"/>
<text x="642.74" y="945" font-size="37" textLength="63.03" lengthAdjust="spacingAndGlyphs" fill="#000">Gas</text>
<text x="713.02" y="945" font-size="37" textLength="88.60" lengthAdjust="spacingAndGlyphs" fill="#000">(TTF),</text>
<text x="809.88" y="945" font-size="37" textLength="174.65" lengthAdjust="spacingAndGlyphs" fill="#000">right-hand</text>
<text x="993.55" y="945" font-size="37" textLength="82.30" lengthAdjust="spacingAndGlyphs" fill="#000">scale</text>
</svg>
</div>
</body></html>
